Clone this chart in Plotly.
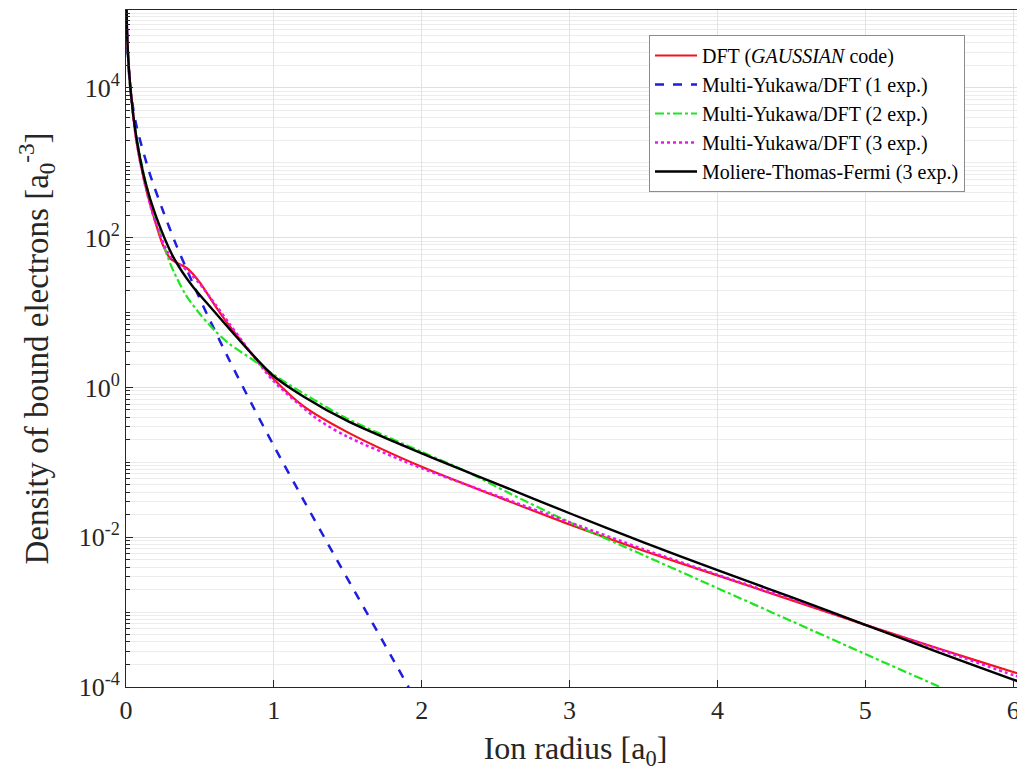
import plotly.graph_objects as go

# ---- data (x in a0, values as log10 of density) ----
dft_x = [0.002, 0.01, 0.03, 0.07, 0.13, 0.2, 0.25, 0.3, 0.35, 0.42, 0.5, 0.6, 0.7, 0.85, 1.0, 1.2, 1.5,
         2.0, 2.5, 3.0, 3.5, 4.0, 4.5, 5.0, 5.5, 6.0, 6.1]
dft_log10 = [5.2, 4.6, 4.0, 3.3, 2.7, 2.2, 1.9, 1.72, 1.66, 1.58, 1.40, 1.10, 0.82, 0.45, 0.11, -0.25, -0.60,
             -1.06, -1.45, -1.83, -2.18, -2.51, -2.84, -3.17, -3.49, -3.80, -3.86]

yuk1_x = [0.0015, 0.01, 0.03, 0.07, 0.16, 0.25, 0.34, 0.45, 0.55, 0.7, 0.85, 1.0, 1.2, 1.4, 1.6, 1.8, 1.95]
yuk1_log10 = [5.25, 4.55, 3.98, 3.50, 2.86, 2.36, 1.90, 1.40, 0.97, 0.36, -0.22, -0.78, -1.50, -2.21, -2.91,
              -3.61, -4.14]

yuk2_x = [0.002, 0.01, 0.03, 0.07, 0.13, 0.2, 0.3, 0.4, 0.5, 0.6, 0.7, 0.85, 1.0, 1.2, 1.5, 2.0, 2.3, 2.6,
          3.0, 3.5, 4.0, 4.5, 5.0, 5.55]
yuk2_log10 = [5.2, 4.55, 3.95, 3.36, 2.76, 2.25, 1.65, 1.25, 0.98, 0.76, 0.58, 0.38, 0.17, -0.08, -0.42, -0.86,
              -1.12, -1.42, -1.80, -2.24, -2.68, -3.12, -3.56, -4.04]

yuk3_x = [0.002, 0.01, 0.03, 0.07, 0.13, 0.2, 0.3, 0.42, 0.5, 0.6, 0.7, 0.85, 1.0, 1.3, 1.5, 1.85, 2.0, 2.5,
          3.0, 3.5, 4.0, 4.7, 5.0, 5.5, 6.0, 6.1]
yuk3_log10 = [5.2, 4.6, 4.0, 3.3, 2.7, 2.2, 1.75, 1.55, 1.38, 1.12, 0.85, 0.45, 0.08, -0.43, -0.66, -0.96, -1.08,
              -1.44, -1.80, -2.16, -2.50, -2.96, -3.17, -3.50, -3.84, -3.90]

mtf_x = [0.002, 0.01, 0.03, 0.07, 0.13, 0.2, 0.32, 0.45, 0.55, 0.7, 0.85, 1.0, 1.2, 1.5, 2.0, 2.5, 3.0,
         3.5, 4.0, 4.5, 5.0, 5.5, 6.0, 6.1]
mtf_log10 = [5.2, 4.6, 4.0, 3.34, 2.75, 2.3, 1.74, 1.35, 1.12, 0.78, 0.45, 0.15, -0.12, -0.45, -0.88, -1.28,
             -1.68, -2.07, -2.44, -2.80, -3.17, -3.54, -3.90, -3.97]

series_names = ["DFT (<i>GAUSSIAN</i> code)", "Multi-Yukawa/DFT (1 exp.)", "Multi-Yukawa/DFT (2 exp.)",
                "Multi-Yukawa/DFT (3 exp.)", "Moliere-Thomas-Fermi (3 exp.)"]

y_label_exp = [-4, -2, 0, 2, 4]
y_all_exp = [-4, -3, -2, -1, 0, 1, 2, 3, 4, 5]
x_ticks = [0, 1, 2, 3, 4, 5, 6]

FONT = "Liberation Serif"

series = [
    (dft_x, dft_log10, dict(color="#f0141e", width=2.2, dash="solid")),
    (yuk1_x, yuk1_log10, dict(color="#1e1edc", width=2.5, dash="dash")),
    (yuk2_x, yuk2_log10, dict(color="#1ee61e", width=2.2, dash="dashdot")),
    (yuk3_x, yuk3_log10, dict(color="#f014f0", width=2.5, dash="dot")),
    (mtf_x, mtf_log10, dict(color="#000000", width=2.4, dash="solid")),
]

fig = go.Figure()
for (xs, ls, line), name in zip(series, series_names):
    fig.add_trace(go.Scatter(x=xs, y=[10 ** v for v in ls], mode="lines", name=name,
                             line=dict(shape="spline", smoothing=0.8, **line)))

major_vals = [10.0 ** e for e in y_label_exp]
major_text = [f"10<sup>{e}</sup>" for e in y_label_exp]
minor_vals = [k * 10.0 ** e for e in y_all_exp[:-1] for k in range(1, 10)
              if not (k == 1 and e in y_label_exp)] + [1e5]

# page has an 8px body margin, so the figure is sized to the visible area
W, H = 1017, 763
L, T, B = 118, 2, 84
plot_w = W - L
plot_h = H - T - B

fig.update_layout(
    width=W, height=H,
    margin=dict(l=L, r=0, t=T, b=B, autoexpand=False),
    paper_bgcolor="white", plot_bgcolor="white",
    font=dict(family=FONT, color="#262626"),
    showlegend=True,
    legend=dict(x=(957 - L) / plot_w, y=1 - (27 - T) / plot_h, xanchor="right", yanchor="top",
                bgcolor="white", bordercolor="#8c8c8c", borderwidth=1,
                font=dict(family=FONT, size=20, color="#000000"),
                tracegroupgap=0, itemwidth=42),
    xaxis=dict(range=[0, 6.08], tickvals=x_ticks, ticktext=[str(t) for t in x_ticks],
               automargin=False,
               ticks="inside", ticklen=7, tickcolor="#262626",
               showgrid=True, gridcolor="#e3e3e3", gridwidth=1,
               showline=True, linecolor="#262626", linewidth=1, mirror=True,
               zeroline=False, tickfont=dict(family=FONT, size=26, color="#262626"),
               title=dict(text="Ion radius [a<sub>0</sub>]", font=dict(family=FONT, size=32, color="#262626"),
                          standoff=12)),
    yaxis=dict(type="log", range=[-4, 5.04], tickvals=major_vals, ticktext=major_text,
               automargin=False,
               ticks="inside", ticklen=7, tickcolor="#262626",
               showgrid=True, gridcolor="#e0e0e0", gridwidth=1,
               showline=True, linecolor="#262626", linewidth=1, mirror=False,
               zeroline=False, tickfont=dict(family=FONT, size=26, color="#262626"),
               minor=dict(tickvals=minor_vals, ticks="inside", ticklen=4, tickcolor="#262626",
                          showgrid=True, gridcolor="#ececec", gridwidth=1),
               title=dict(text="Density of bound electrons [a<sub>0</sub><sup>-3</sup>]",
                          font=dict(family=FONT, size=33, color="#262626"), standoff=20)),
)

fig.write_html("out.html")
